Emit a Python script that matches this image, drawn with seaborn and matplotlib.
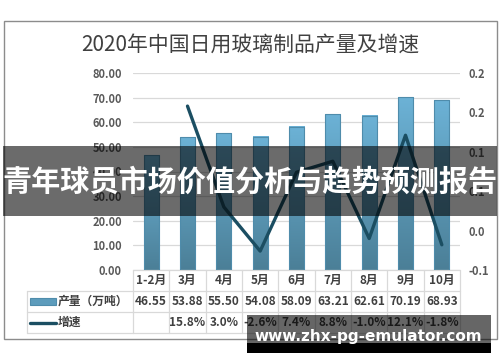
import numpy as np
import pandas as pd
import matplotlib.pyplot as plt
import matplotlib.transforms as mtransforms
from matplotlib.patches import Rectangle
from matplotlib.lines import Line2D
from matplotlib.colors import LinearSegmentedColormap
import seaborn as sns

# data
months = ['1-2月', '3月', '4月', '5月', '6月', '7月', '8月', '9月', '10月']
output = [46.55, 53.88, 55.50, 54.08, 58.09, 63.21, 62.61, 70.19, 68.93]
growth = [np.nan, 0.158, 0.030, -0.026, 0.074, 0.088, -0.010, 0.121, -0.018]
left_ticks = [0, 10, 20, 30, 40, 50, 60, 70, 80]
right_ticks = [-0.05, 0.0, 0.05, 0.10, 0.15, 0.20]
right_labels = ['-0.1', '0.0', '0.1', '0.1', '0.2', '0.2']
title = '2020年中国日用玻璃制品产量及增速'
series_names = ['产量（万吨）', '增速']
banner = '青年球员市场价值分析与趋势预测报告'
url = 'www.zhx-pg-emulator.com'

W, H = 500, 362
BAR_DARK, BAR_LIGHT = '#4b7f97', '#6cb2d6'
LINE_COLOR = '#1b4e62'
GRID = '#d9d9d9'
TXT = '#404040'

sns.set_theme(style='white')
plt.rcParams['font.family'] = ['Noto Sans CJK SC', 'DejaVu Sans']

df = pd.DataFrame({'month': months, 'output': output, 'growth': growth})

fig = plt.figure(figsize=(W / 100, H / 100), dpi=100)
ax = fig.add_axes([133 / W, 1 - 270 / H, 327 / W, 197 / H])

sns.barplot(data=df, x='month', y='output', order=months, width=0.42,
            color=BAR_LIGHT, saturation=1, ax=ax, zorder=2)

# vertical gradient on each bar (Excel style)
cmap = LinearSegmentedColormap.from_list('bar', [BAR_DARK, BAR_LIGHT])
grad = np.linspace(0, 1, 256).reshape(-1, 1)
for p in ax.patches:
    x0, y0, w, h = p.get_x(), p.get_y(), p.get_width(), p.get_height()
    ax.imshow(grad, cmap=cmap, extent=[x0, x0 + w, y0, y0 + h],
              origin='lower', aspect='auto', zorder=2)
    p.set_facecolor('none')
    p.set_edgecolor('#4f8cab')
    p.set_linewidth(0.8)
    p.set_zorder(3)

ax.set_xlim(-0.5, len(months) - 0.5)
ax.set_ylim(0, 80)
ax.set_yticks(left_ticks)
ax.set_yticklabels([f'{v:.2f}' for v in left_ticks])
ax.yaxis.grid(True, color=GRID, lw=0.9)
ax.set_axisbelow(True)
ax.set_xlabel('')
ax.set_ylabel('')
ax.tick_params(axis='x', labelbottom=False, length=0)
ax.tick_params(axis='y', length=0, pad=8, labelsize=8, labelcolor='#595959')
for lab in ax.get_yticklabels():
    lab.set_fontweight('bold')
for s in ax.spines.values():
    s.set_visible(False)

ax2 = ax.twinx()
sns.lineplot(x=np.arange(len(months)), y=df['growth'], ax=ax2,
             color=LINE_COLOR, lw=2.4)
ax2.set_ylim(right_ticks[0], right_ticks[-1])
ax2.set_yticks(right_ticks)
ax2.set_yticklabels(right_labels)
ax2.set_ylabel('')
ax2.tick_params(axis='y', length=0, pad=6, labelsize=8, labelcolor='#595959')
for lab in ax2.get_yticklabels():
    lab.set_fontweight('bold')
for s in ax2.spines.values():
    s.set_visible(False)

# data table under the plot
trans = mtransforms.blended_transform_factory(ax.transData, ax.transAxes)
rows = [0, -0.107, -0.213, -0.32]
left_edge = -0.324
line_kw = dict(color=GRID, lw=0.9, clip_on=False)
ax.plot([0, 1], [rows[0]] * 2, transform=ax.transAxes, **line_kw)
for r in rows[1:]:
    ax.plot([left_edge, 1], [r, r], transform=ax.transAxes, **line_kw)
for i in range(len(months) + 1):
    ax.plot([i - 0.5, i - 0.5], [rows[0], rows[-1]], transform=trans, **line_kw)
ax.plot([left_edge, left_edge], [rows[1], rows[-1]], transform=ax.transAxes, **line_kw)

mid = [(rows[k] + rows[k + 1]) / 2 for k in range(3)]
cell_kw = dict(transform=trans, ha='center', va='center', fontsize=8.5,
               color=TXT, fontweight='bold', clip_on=False)
for i, m in enumerate(months):
    ax.text(i, mid[0], m, **cell_kw)
    ax.text(i, mid[1], f'{output[i]:.2f}', **cell_kw)
    if not np.isnan(growth[i]):
        ax.text(i, mid[2], f'{growth[i] * 100:.1f}%', **cell_kw)

# legend keys inside the table
sw0, sw1 = (30 - 133) / 327, (56 - 133) / 327
ax.add_patch(Rectangle((sw0, mid[1] - 0.02), sw1 - sw0, 0.04, transform=ax.transAxes,
                       facecolor='#5d9cbc', edgecolor='#4f8cab', lw=0.8, clip_on=False))
ax.add_line(Line2D([sw0, sw1], [mid[2], mid[2]], transform=ax.transAxes,
                   color=LINE_COLOR, lw=2.4, clip_on=False))
for k, name in enumerate(series_names):
    ax.text(sw1 + 0.006, mid[k + 1], name, transform=ax.transAxes, ha='left',
            va='center', fontsize=8.5, color=TXT, fontweight='bold', clip_on=False)

fig.text(0.5, 1 - 45 / H, title, ha='center', va='center', fontsize=15, color=TXT)

# outer chart border
fig.add_artist(Rectangle((4 / W, 1 - 339 / H), 493 / W, 318 / H, transform=fig.transFigure,
                         fill=False, edgecolor='#8c8c8c', lw=1))

# overlays
fig.add_artist(Rectangle((3 / W, 1 - 216 / H), 494 / W, 70 / H, transform=fig.transFigure,
                         facecolor='black', alpha=0.58, lw=0, zorder=10))
fig.text(0.5, 1 - 182 / H, banner, ha='center', va='center', fontsize=21,
         fontweight='bold', color='white', zorder=11)

fig.add_artist(Rectangle((247 / W, 1 - 343 / H), 244 / W, 28 / H, transform=fig.transFigure,
                         facecolor='black', alpha=0.6, lw=0, zorder=10))
fig.add_artist(Rectangle((247 / W, 1 - 353 / H), 244 / W, 10 / H, transform=fig.transFigure,
                         facecolor='black', lw=0, zorder=10))
fig.text(368 / W, 1 - 337 / H, url, ha='center', va='center', fontsize=11,
         fontweight='bold', color='white', family='DejaVu Sans', zorder=11)

fig.savefig('out.png', dpi=100)
